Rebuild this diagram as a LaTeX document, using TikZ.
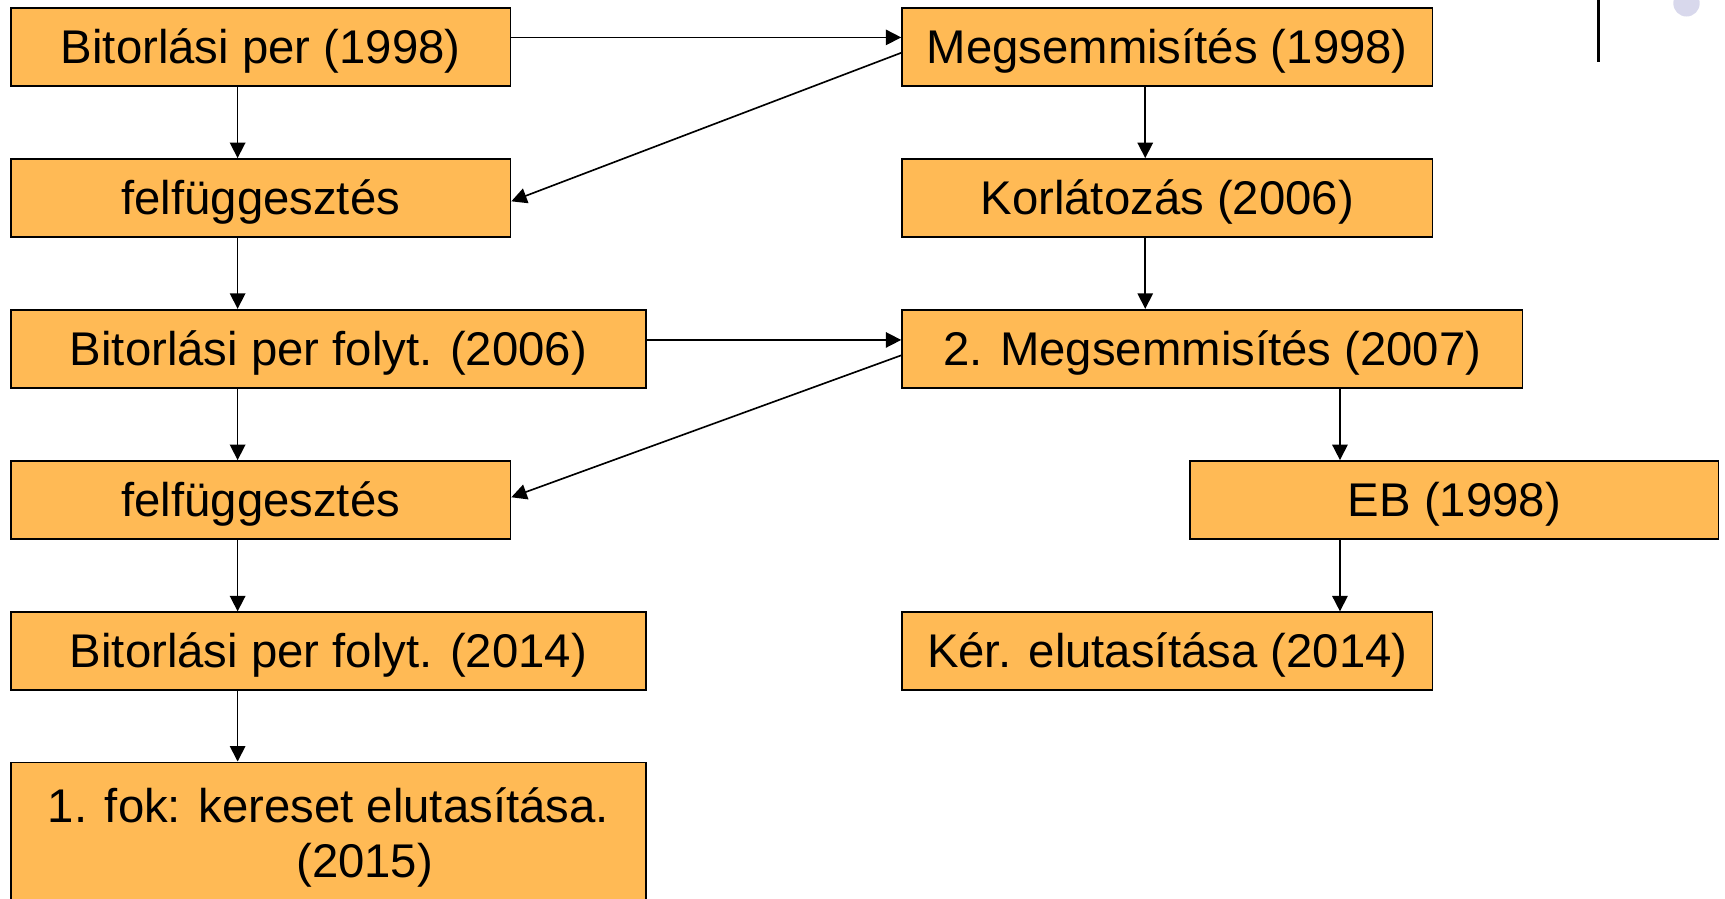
\documentclass[tikz,border=0pt]{standalone}
\usepackage{fontspec}
\setmainfont{Liberation Sans}
\usetikzlibrary{arrows.meta}
\definecolor{boxfill}{HTML}{FFBA55}
\definecolor{dotcol}{HTML}{D8D8EC}
\tikzset{
  stepbox/.style={draw=black, line width=1.6pt, fill=boxfill, rectangle, inner sep=0pt,
    minimum height=71pt, text height=39pt, text depth=9pt, font=\fontsize{43}{50}\selectfont},
  arr/.style={line width=1.5pt, -{Triangle[length=14pt,width=14pt]}},
}
\begin{document}
\begin{tikzpicture}[x=1pt,y=-1pt]
\useasboundingbox (0,0) rectangle (1568,817);
\clip (0,0) rectangle (1568,817);
% left column
\node[stepbox, minimum width=454pt] (b1) at (237,42.5) {Bitorlási per (1998)};
\node[stepbox, minimum width=454pt] (f1) at (237,180) {felfüggesztés};
\node[stepbox, minimum width=577pt] (c1) at (298.5,317) {Bitorlási per folyt. (2006)};
\node[stepbox, minimum width=454pt] (f2) at (237,454.5) {felfüggesztés};
\node[stepbox, minimum width=577pt] (c2) at (298.5,592) {Bitorlási per folyt. (2014)};
\node[draw=black, line width=1.6pt, fill=boxfill, rectangle, inner sep=0pt,
  minimum width=577pt, minimum height=157pt] (k) at (298.5,771.5) {};
\node[font=\fontsize{43}{50}\selectfont, align=center, inner sep=0pt] (kt) at (298.5,761)
  {1. fok: kereset elutasítása.\\\hspace*{66pt}(2015)};
% right column
\node[stepbox, minimum width=482pt] (m1) at (1061,42.5) {Megsemmisítés (1998)};
\node[stepbox, minimum width=482pt] (ko) at (1061,180) {Korlátozás (2006)};
\node[stepbox, minimum width=564pt] (m2) at (1102,317) {2. Megsemmisítés (2007)};
\node[stepbox, minimum width=480pt] (eb) at (1322,454.5) {EB (1998)};
\node[stepbox, minimum width=482pt] (ker) at (1061,592) {Kér. elutasítása (2014)};
% column coordinates
\coordinate (L) at (216,0);
\coordinate (R) at (1041,0);
\coordinate (E) at (1218,0);
% vertical arrows
\draw[arr] (b1.south -| L) -- (f1.north -| L);
\draw[arr] (f1.south -| L) -- (c1.north -| L);
\draw[arr] (c1.south -| L) -- (f2.north -| L);
\draw[arr] (f2.south -| L) -- (c2.north -| L);
\draw[arr] (c2.south -| L) -- (k.north -| L);
\draw[arr] (m1.south -| R) -- (ko.north -| R);
\draw[arr] (ko.south -| R) -- (m2.north -| R);
\draw[arr] (m2.south -| E) -- (eb.north -| E);
\draw[arr] (eb.south -| E) -- (ker.north -| E);
% horizontal and diagonal arrows
\draw[arr] ([yshift=8.5pt]b1.east) -- ([yshift=8.5pt]m1.west);
\draw[arr] ([yshift=-5.5pt]m1.west) -- ([yshift=-3pt]f1.east);
\draw[arr] ([yshift=8pt]c1.east) -- ([yshift=8pt]m2.west);
\draw[arr] ([yshift=-6pt]m2.west) -- ([yshift=2.5pt]f2.east);
% top-right decorations
\draw[line width=2pt] (1453,0) -- (1453,56);
\fill[dotcol] (1533,3) circle (12);
\end{tikzpicture}
\end{document}
